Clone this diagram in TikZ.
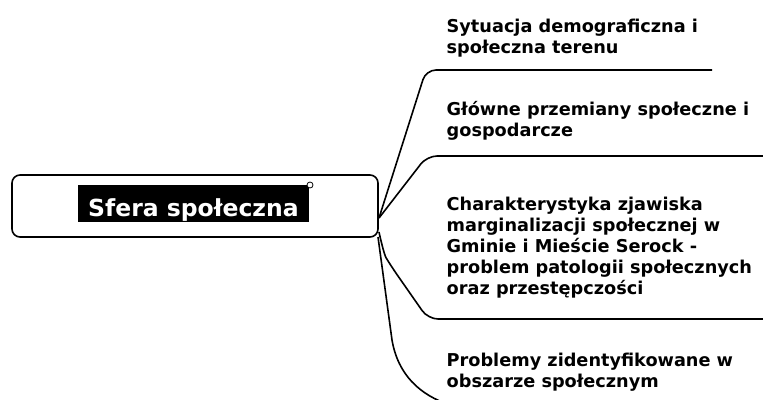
\documentclass[tikz,border=0pt]{standalone}
\usepackage{fontspec}
\setmainfont{DejaVu Sans}
\begin{document}
\begin{tikzpicture}[x=1pt,y=-1pt,
  conn/.style={line width=1.6pt, rounded corners=10pt},
  branchtext/.style={anchor=base west, inner sep=0pt, font=\fontsize{17.7}{21}\selectfont\bfseries},
  rootbox/.style={draw, line width=1.6pt, rounded corners=8pt, minimum width=366pt, minimum height=62pt, inner sep=0pt},
  sferalabel/.style={fill=black, text=white, minimum width=231pt, minimum height=37pt, inner sep=0pt, text height=25pt, text depth=0pt, font=\fontsize{23.5}{28}\selectfont\bfseries},
]
\useasboundingbox (0,0) rectangle (763,399);
\clip (0,0) rectangle (763,399);
\node[rootbox] (root) at (195,206) {};
\node[sferalabel] (lab) at (193.5,203.5) {Sfera społeczna};
\node[draw, circle, fill=white, line width=0.8pt, minimum size=6pt, inner sep=0pt] (dot) at (310,185) {};

\node[branchtext] (t1) at (446.5,32) {\begin{tabular}[t]{@{}l@{}}Sytuacja demograficzna i\\społeczna terenu\end{tabular}};
\node[branchtext] (t2) at (446.5,115) {\begin{tabular}[t]{@{}l@{}}Główne przemiany społeczne i\\gospodarcze\end{tabular}};
\node[branchtext] (t3) at (446.5,210) {\begin{tabular}[t]{@{}l@{}}Charakterystyka zjawiska\\marginalizacji społecznej w\\Gminie i Mieście Serock -\\problem patologii społecznych\\oraz przestępczości\end{tabular}};
\node[branchtext] (t4) at (446.5,366) {\begin{tabular}[t]{@{}l@{}}Problemy zidentyfikowane w\\obszarze społecznym\end{tabular}};

\coordinate (o1) at (379,218);
\coordinate (o2) at (379,232);
\coordinate (o3) at (378,237);
\coordinate (e1) at (712,70);
\coordinate (e2) at (763,156);
\coordinate (e3) at (763,319);
\coordinate (e4) at (763,405);

\draw[conn] (o1) -- (426,70) -- (e1);
\draw[conn] (o1) -- (427,156) -- (e2);
\draw[conn] (o2) .. controls (382,246) and (385,256) .. (391,266) -- (428,319) -- (e3);
\draw[line width=1.6pt] (o3) -- (392,340) .. controls (398,375) and (420,395) .. (450,405) -- (e4);
\end{tikzpicture}
\end{document}
